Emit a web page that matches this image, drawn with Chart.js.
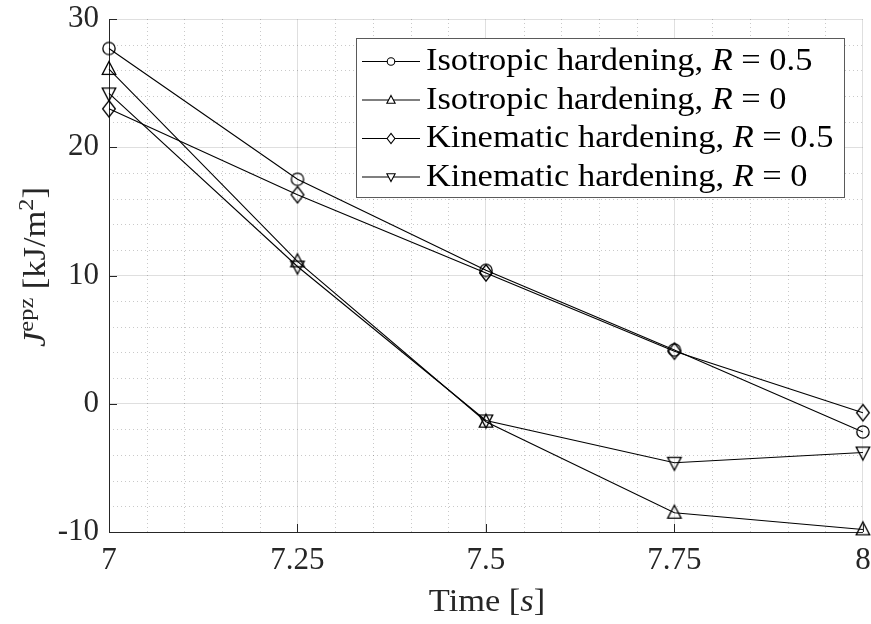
<!DOCTYPE html>
<html>
<head>
<meta charset="utf-8">
<script src="https://cdn.jsdelivr.net/npm/chart.js@4.4.0/dist/chart.umd.min.js"></script>
<style>
  html, body { margin: 0; padding: 0; background: #fff; }
  canvas { display: block; }
</style>
</head>
<body>
<canvas id="chart" width="871" height="624"></canvas>
<script>
  // data
  const times = [7, 7.25, 7.5, 7.75, 8];
  const isoR05 = [27.7, 17.5, 10.4, 4.2, -2.2];
  const isoR0 = [26.1, 11.1, -1.4, -8.5, -9.8];
  const kinR05 = [23.0, 16.3, 10.2, 4.1, -0.7];
  const kinR0 = [24.2, 10.7, -1.3, -4.6, -3.8];

  const seriesNames = ["Isotropic hardening, ", "Isotropic hardening, ",
                       "Kinematic hardening, ", "Kinematic hardening, "];
  const seriesR = ["0.5", "0", "0.5", "0"];
  const seriesMarkers = ["circle", "triUp", "diamond", "triDown"];

  const xTickLabels = ["7", "7.25", "7.5", "7.75", "8"];
  const yTickLabels = ["-10", "0", "10", "20", "30"];

  const INK = "#262626";
  const SERIF = '"Liberation Serif", "DejaVu Serif", serif';
  const STRETCH = 1.11; // Liberation is narrower than the LaTeX face

  // hollow marker path, centred on (x, y)
  function markerPath(ctx, kind, x, y, s) {
    ctx.beginPath();
    if (kind === "circle") {
      ctx.arc(x, y, s * 0.82, 0, Math.PI * 2);
    } else if (kind === "triUp") {
      ctx.moveTo(x, y - s);
      ctx.lineTo(x + s * 0.9, y + s * 0.72);
      ctx.lineTo(x - s * 0.9, y + s * 0.72);
      ctx.closePath();
    } else if (kind === "triDown") {
      ctx.moveTo(x, y + s);
      ctx.lineTo(x + s * 0.9, y - s * 0.72);
      ctx.lineTo(x - s * 0.9, y - s * 0.72);
      ctx.closePath();
    } else {
      ctx.moveTo(x, y - s * 1.1);
      ctx.lineTo(x + s * 0.85, y);
      ctx.lineTo(x, y + s * 1.1);
      ctx.lineTo(x - s * 0.85, y);
      ctx.closePath();
    }
  }

  function markerCanvas(kind, s) {
    const c = document.createElement("canvas");
    c.width = c.height = Math.ceil(s * 2.6) + 2;
    const ctx = c.getContext("2d");
    ctx.strokeStyle = "#000";
    ctx.lineWidth = 1.3;
    markerPath(ctx, kind, c.width / 2, c.height / 2, s);
    ctx.stroke();
    return c;
  }

  const seriesValues = [isoR05, isoR0, kinR05, kinR0];
  const datasets = seriesValues.map((vals, i) => ({
    label: seriesNames[i] + "R = " + seriesR[i],
    data: times.map((t, j) => ({ x: t, y: vals[j] })),
    borderColor: "#000",
    borderWidth: 1.1,
    tension: 0,
    fill: false,
    clip: false,
    pointStyle: markerCanvas(seriesMarkers[i], 7.5),
    pointRadius: 7,
    pointHoverRadius: 7,
  }));

  // draw a row of text runs {t, font, dy}, stretched horizontally
  function drawRuns(ctx, runs, x, y, align) {
    let total = 0;
    runs.forEach((r) => { ctx.font = r.font; r.w = ctx.measureText(r.t).width; total += r.w; });
    ctx.save();
    ctx.translate(x, y);
    ctx.scale(STRETCH, 1);
    let cx = align === "center" ? -total / 2 : 0;
    ctx.textAlign = "left";
    ctx.textBaseline = "alphabetic";
    runs.forEach((r) => { ctx.font = r.font; ctx.fillText(r.t, cx, r.dy || 0); cx += r.w; });
    ctx.restore();
  }

  const decor = {
    id: "decor",
    beforeDatasetsDraw(chart) {
      const { ctx, chartArea: a, scales: { x, y } } = chart;
      ctx.save();
      ctx.strokeStyle = "rgba(38,38,38,0.25)";
      ctx.lineWidth = 1;
      ctx.setLineDash([1, 3]);
      for (let i = 1; i < 20; i++) {
        if (i % 5 === 0) continue;
        const px = Math.round(x.getPixelForValue(7 + i * 0.05)) + 0.5;
        ctx.beginPath(); ctx.moveTo(px, a.bottom); ctx.lineTo(px, a.top); ctx.stroke();
      }
      for (let v = -8; v < 30; v += 2) {
        if (v % 10 === 0) continue;
        const py = Math.round(y.getPixelForValue(v)) + 0.5;
        ctx.beginPath(); ctx.moveTo(a.left, py); ctx.lineTo(a.right, py); ctx.stroke();
      }
      ctx.restore();
    },
    afterDatasetsDraw(chart) {
      const { ctx, chartArea: a, scales: { x, y } } = chart;
      ctx.save();
      // inward ticks
      ctx.strokeStyle = INK;
      ctx.lineWidth = 1;
      times.forEach((t) => {
        const px = Math.round(x.getPixelForValue(t)) + 0.5;
        ctx.beginPath(); ctx.moveTo(px, a.bottom); ctx.lineTo(px, a.bottom - 8); ctx.stroke();
      });
      [-10, 0, 10, 20, 30].forEach((v) => {
        const py = Math.round(y.getPixelForValue(v)) + 0.5;
        ctx.beginPath(); ctx.moveTo(a.left, py); ctx.lineTo(a.left + 8, py); ctx.stroke();
      });

      // legend box
      const bx = 356.5, by = 38.5, bw = 488, bh = 159;
      ctx.fillStyle = "#fff";
      ctx.fillRect(bx, by, bw, bh);
      ctx.strokeStyle = "#5a5a5a";
      ctx.strokeRect(bx, by, bw, bh);
      for (let i = 0; i < 4; i++) {
        const ly = 61.5 + i * 38.5;
        ctx.strokeStyle = "#000";
        ctx.lineWidth = 1.1;
        ctx.beginPath(); ctx.moveTo(362, ly); ctx.lineTo(420, ly); ctx.stroke();
        ctx.fillStyle = "#fff";
        markerPath(ctx, seriesMarkers[i], 391, ly, 4.6);
        ctx.fill(); ctx.stroke();
        ctx.fillStyle = "#000";
        drawRuns(ctx, [
          { t: seriesNames[i], font: "31px " + SERIF },
          { t: "R", font: "italic 31px " + SERIF },
          { t: " = " + seriesR[i], font: "31px " + SERIF },
        ], 426, ly + 8.5, "left");
      }

      // axis titles
      ctx.fillStyle = INK;
      drawRuns(ctx, [
        { t: "Time [", font: "31px " + SERIF },
        { t: "s", font: "italic 31px " + SERIF },
        { t: "]", font: "31px " + SERIF },
      ], 487, 611, "center");

      ctx.translate(45, 267);
      ctx.rotate(-Math.PI / 2);
      drawRuns(ctx, [
        { t: "J", font: "italic 31px " + SERIF },
        { t: "epz", font: "22px " + SERIF, dy: -12 },
        { t: " [kJ/m", font: "31px " + SERIF },
        { t: "2", font: "22px " + SERIF, dy: -12 },
        { t: "]", font: "31px " + SERIF },
      ], 0, 0, "center");
      ctx.restore();
    },
  };

  new Chart(document.getElementById("chart"), {
    type: "line",
    data: { datasets },
    options: {
      responsive: false,
      animation: false,
      devicePixelRatio: 1,
      layout: { padding: { top: 19, right: 8, left: 0, bottom: 0 } },
      plugins: { legend: { display: false }, tooltip: { enabled: false } },
      scales: {
        x: {
          type: "linear", min: 7, max: 8,
          afterFit: (s) => { s.height = 92; s.paddingLeft = 0; s.paddingRight = 0; },
          grid: { color: "rgba(38,38,38,0.15)", drawTicks: false },
          border: { color: INK, width: 1 },
          ticks: {
            stepSize: 0.25, autoSkip: false, maxRotation: 0, padding: 10,
            color: INK, font: { family: SERIF, size: 31 },
            callback: (v, i) => xTickLabels[i],
          },
        },
        y: {
          type: "linear", min: -10, max: 30,
          afterFit: (s) => { s.width = 109; s.paddingTop = 0; s.paddingBottom = 0; },
          grid: { color: "rgba(38,38,38,0.15)", drawTicks: false },
          border: { color: INK, width: 1 },
          ticks: {
            stepSize: 10, padding: 10,
            color: INK, font: { family: SERIF, size: 31 },
            callback: (v, i) => yTickLabels[i],
          },
        },
      },
    },
    plugins: [decor],
  });
</script>
</body>
</html>
